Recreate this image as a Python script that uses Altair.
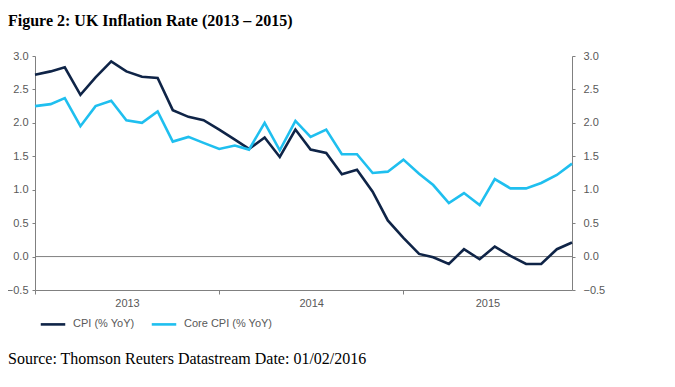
import altair as alt
import pandas as pd

months = [f"{y}-{m:02d}-01" for y in (2013, 2014, 2015) for m in range(1, 13)]

cpi = [2.72, 2.77, 2.83, 2.42, 2.68, 2.92, 2.77, 2.69, 2.67, 2.19, 2.09, 2.04,
       1.90, 1.75, 1.61, 1.78, 1.49, 1.90, 1.60, 1.55, 1.23, 1.30, 0.97, 0.54,
       0.28, 0.04, -0.01, -0.11, 0.11, -0.04, 0.15, 0.01, -0.11, -0.11, 0.11, 0.21]
core = [2.25, 2.28, 2.37, 1.95, 2.25, 2.33, 2.04, 2.00, 2.17, 1.72, 1.79, 1.70,
        1.61, 1.66, 1.60, 2.00, 1.59, 2.03, 1.79, 1.90, 1.53, 1.53, 1.25, 1.27,
        1.45, 1.24, 1.07, 0.80, 0.95, 0.77, 1.16, 1.02, 1.02, 1.10, 1.22, 1.39]

series_names = ["CPI (% YoY)", "Core CPI (% YoY)"]
series_colors = ["#0f2447", "#1fbfef"]
y_ticks = [-0.5, 0.0, 0.5, 1.0, 1.5, 2.0, 2.5, 3.0]
year_ticks = ["2013-01-01", "2014-01-01", "2015-01-01"]

title_text = "Figure 2: UK Inflation Rate (2013 \u2013 2015)"
source_text = "Source: Thomson Reuters Datastream Date: 01/02/2016"

df = pd.DataFrame({
    "date": months * 2,
    "value": cpi + core,
    "series": [series_names[0]] * len(months) + [series_names[1]] * len(months),
})

AX_FONT = "Liberation Sans"
GREY = "#808080"
LBL = "#595959"

x_scale = alt.Scale(domain=["2013-01-01", "2015-12-01"])
y_scale = alt.Scale(domain=[-0.5, 3.0], nice=False, zero=False)

x_axis = alt.Axis(
    values=[pd.Timestamp(d).timestamp() * 1000 for d in year_ticks],
    format="%Y", title=None, grid=False,
    domainColor=GREY, tickColor=GREY, tickSize=4,
    labelFont=AX_FONT, labelFontSize=11, labelColor=LBL, labelPadding=3,
    labelAngle=0, labelAlign="center",
    labelOffset=alt.ExprRef("year(datum.value) == 2015 ? 84 : 92"),
)

lines = alt.Chart(df).mark_line(strokeWidth=2.6).encode(
    x=alt.X("date:T", scale=x_scale, axis=x_axis),
    y=alt.Y("value:Q", scale=y_scale, axis=alt.Axis(
        values=y_ticks, format=".1f", title=None, grid=False, orient="left",
        domainColor=GREY, tickColor=GREY, tickSize=3,
        labelFont=AX_FONT, labelFontSize=11, labelColor=LBL, labelPadding=4)),
    color=alt.Color("series:N", sort=series_names,
                    scale=alt.Scale(domain=series_names, range=series_colors),
                    legend=alt.Legend(
                        title=None, orient="none", direction="horizontal",
                        legendX=4, legendY=254,
                        symbolType="stroke", symbolSize=600, symbolStrokeWidth=2.6,
                        labelFont=AX_FONT, labelFontSize=11, labelColor=LBL,
                        labelOffset=6, columnPadding=11)),
)

zero_df = pd.DataFrame({"y": [0.0]})
zero_rule = alt.Chart(zero_df).mark_rule(color=GREY, strokeWidth=1).encode(
    y=alt.Y("y:Q", scale=y_scale, axis=alt.Axis(
        values=y_ticks, format=".1f", title=None, grid=False, orient="right",
        domainColor=GREY, tickColor=GREY, tickSize=3,
        labelFont=AX_FONT, labelFontSize=11, labelColor=LBL, labelPadding=8)),
)

src = alt.Chart(pd.DataFrame({"t": [source_text]})).mark_text(
    font="Liberation Serif", fontSize=16, color="black", align="left",
    baseline="alphabetic").encode(
    text="t:N", x=alt.value(-27), y=alt.value(308))

chart = alt.layer(zero_rule, lines, src).resolve_scale(y="independent").properties(
    width=537, height=234,
    title=alt.TitleParams(title_text, anchor="start", font="Liberation Serif",
                          fontSize=16, fontWeight="bold", color="black",
                          dx=-27, offset=21, frame="group"),
    autosize=alt.AutoSizeParams(type="none"),
    padding={"left": 27, "top": 48, "right": 90, "bottom": 80},
).configure_view(stroke=None)

chart.save("out.html", embed_options={"renderer": "svg", "actions": False})
